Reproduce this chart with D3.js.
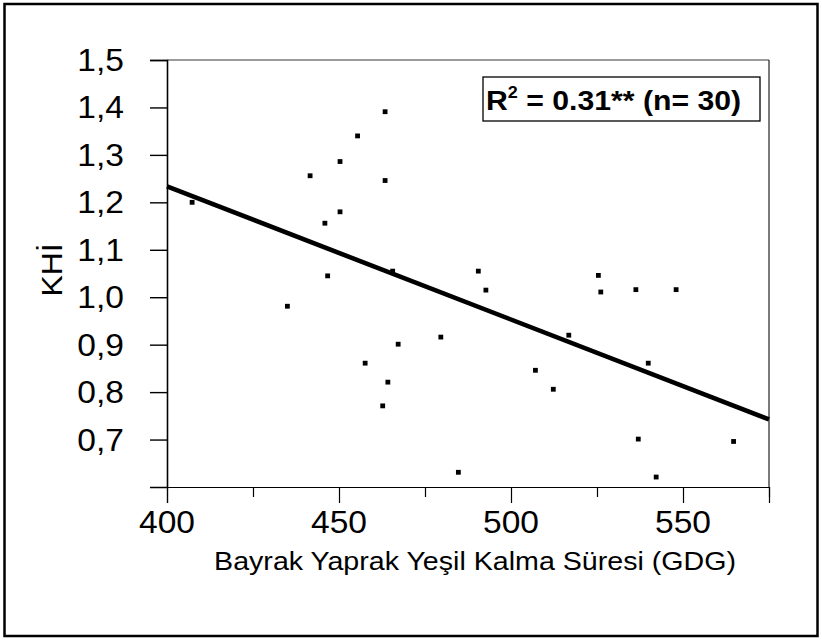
<!DOCTYPE html>
<html>
<head>
<meta charset="utf-8">
<script src="https://cdn.jsdelivr.net/npm/d3@7"></script>
<style>
  html, body { margin: 0; padding: 0; background: #fff; }
  svg { display: block; }
  text { font-family: "Liberation Sans", Arial, Helvetica, sans-serif; fill: #000; }
</style>
</head>
<body>
<svg id="chart" width="822" height="641"></svg>
<script>
// Flag-leaf stay-green duration (GDG) vs. KHİ, 30 observations
const gdg = [407.3, 441.6, 450.3, 455.4, 450.3, 445.9, 463.4, 463.4, 446.7, 435.0,
             457.6, 465.6, 490.5, 492.7, 479.6, 467.2, 464.2, 462.7, 516.8, 507.1,
             512.3, 484.7, 525.4, 526.1, 536.3, 548.0, 539.9, 537.0, 564.7, 542.2];
const khi = [1.200, 1.256, 1.286, 1.340, 1.180, 1.156, 1.391, 1.246, 1.045, 0.981,
             0.861, 1.055, 1.055, 1.015, 0.916, 0.901, 0.821, 0.771, 0.920, 0.846,
             0.806, 0.631, 1.046, 1.011, 1.016, 1.016, 0.861, 0.701, 0.696, 0.621];

// Fitted linear trend
const fitIntercept = 2.356;
const fitSlope = -0.002806;

const xMajorTicks = [400, 450, 500, 550];
const xMinorTicks = [425, 475, 525, 575];
const yTicks = [0.7, 0.8, 0.9, 1.0, 1.1, 1.2, 1.3, 1.4, 1.5];

const xTitle = "Bayrak Yaprak Yeşil Kalma Süresi (GDG)";
const yTitle = "KHİ";
const statText = { r: "R", sup: "2", rest: " = 0.31** (n= 30)" };

const svg = d3.select("#chart");
const stretch = 1.1;   // glyphs are drawn slightly wide

// Outer frame
svg.append("rect")
  .attr("x", 4.5).attr("y", 4).attr("width", 813).attr("height", 632)
  .attr("fill", "none").attr("stroke", "#000").attr("stroke-width", 2.5);

const plot = { left: 167, right: 769, top: 60, bottom: 487 };

const x = d3.scaleLinear().domain([400, 575]).range([plot.left, plot.right]);
const y = d3.scaleLinear().domain([0.6, 1.5]).range([plot.bottom, plot.top]);

// Top and right frame of plot area
svg.append("line")
  .attr("x1", plot.left).attr("x2", plot.right)
  .attr("y1", plot.top).attr("y2", plot.top)
  .attr("stroke", "#7a7a7a").attr("stroke-width", 1.5);
svg.append("line")
  .attr("x1", plot.right).attr("x2", plot.right)
  .attr("y1", plot.top).attr("y2", plot.bottom)
  .attr("stroke", "#222").attr("stroke-width", 1.2);

// X axis: major ticks with labels, minor ticks between
const gx = svg.append("g").attr("transform", `translate(0,${plot.bottom})`);
gx.call(d3.axisBottom(x).tickValues(xMajorTicks).tickSize(16).tickFormat(""));
gx.call(g => g.select(".domain").attr("stroke", "#000").attr("stroke-width", 1.2));
gx.selectAll(".tick line").attr("stroke", "#000").attr("stroke-width", 1.2);
const gxm = svg.append("g").attr("transform", `translate(0,${plot.bottom})`);
gxm.call(d3.axisBottom(x).tickValues(xMinorTicks).tickSize(10).tickFormat(""));
gxm.select(".domain").remove();
gxm.selectAll(".tick line").attr("stroke", "#000").attr("stroke-width", 1.2);

svg.append("g").selectAll("text")
  .data(xMajorTicks).join("text")
  .attr("transform", d => `translate(${x(d)},${plot.bottom + 46}) scale(${stretch},1)`)
  .attr("text-anchor", "middle")
  .attr("font-size", 30.5)
  .text(d => d);

// Y axis
const gy = svg.append("g").attr("transform", `translate(${plot.left},0)`);
gy.call(d3.axisLeft(y).tickValues(yTicks).tickSize(17).tickFormat(""));
gy.select(".domain").attr("stroke", "#000").attr("stroke-width", 1.6);
gy.selectAll(".tick line").attr("stroke", "#000").attr("stroke-width", 1.4);

const yFmt = d => d3.format(".1f")(d).replace(".", ",");
svg.append("g").selectAll("text")
  .data(yTicks).join("text")
  .attr("transform", d => `translate(124,${y(d) + 11}) scale(${stretch},1)`)
  .attr("text-anchor", "end")
  .attr("font-size", 30.5)
  .text(yFmt);

// Axis titles
svg.append("text")
  .attr("transform", `translate(475,570) scale(${stretch},1)`)
  .attr("text-anchor", "middle")
  .attr("font-size", 26)
  .text(xTitle);

svg.append("text")
  .attr("transform", `translate(62,270) rotate(-90) scale(${stretch},1)`)
  .attr("text-anchor", "middle")
  .attr("font-size", 29)
  .text(yTitle);

// Regression line
const fit = v => fitIntercept + fitSlope * v;
svg.append("line")
  .attr("x1", x(400)).attr("y1", y(fit(400)))
  .attr("x2", x(575)).attr("y2", y(fit(575)))
  .attr("stroke", "#000").attr("stroke-width", 4.6);

// Observations as small squares
const pts = gdg.map((v, i) => ({ gdg: v, khi: khi[i] }));
const s = 4.8;
svg.append("g").selectAll("rect")
  .data(pts).join("rect")
  .attr("x", d => x(d.gdg) - s / 2)
  .attr("y", d => y(d.khi) - s / 2)
  .attr("width", s).attr("height", s)
  .attr("fill", "#000");

// Statistics box
svg.append("rect")
  .attr("x", 483).attr("y", 77).attr("width", 277).attr("height", 44)
  .attr("fill", "#fff").attr("stroke", "#000").attr("stroke-width", 1.3);

const st = svg.append("text")
  .attr("transform", `translate(486,109.5) scale(1.06,1)`)
  .attr("font-size", 28.5).attr("font-weight", "bold");
st.append("tspan").text(statText.r);
st.append("tspan").attr("font-size", 17).attr("dy", -11.5).text(statText.sup);
st.append("tspan").attr("dy", 11.5).text(statText.rest);
</script>
</body>
</html>
